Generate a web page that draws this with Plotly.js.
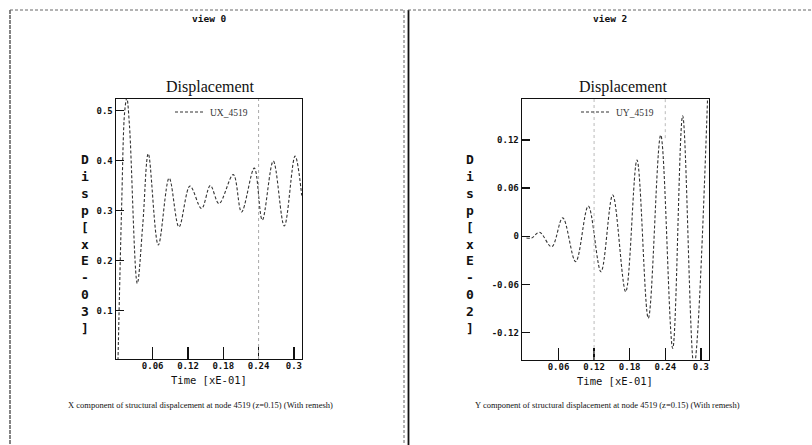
<!DOCTYPE html>
<html>
<head>
<meta charset="utf-8">
<script src="https://cdn.plot.ly/plotly-3.0.1.min.js"></script>
<style>html,body{margin:0;padding:0;background:#fff;}#chart{width:812px;height:445px;}</style>
</head>
<body>
<div id="chart"></div>
<script>
// ---- data ----
const uxTime = [0.001, 0.007, 0.0125, 0.016, 0.0205, 0.0338, 0.043, 0.0525, 0.0695, 0.088, 0.1047, 0.1234, 0.143, 0.158, 0.1727, 0.197, 0.211, 0.2327, 0.2463, 0.265, 0.2837, 0.302, 0.3133];
const uxValue = [0.0, 0.30, 0.50, 0.525, 0.47, 0.154, 0.27, 0.414, 0.231, 0.365, 0.267, 0.349, 0.304, 0.350, 0.314, 0.372, 0.297, 0.385, 0.281, 0.399, 0.269, 0.409, 0.330];

const uyTime = [0.006, 0.015, 0.028, 0.0485, 0.0671, 0.089, 0.1102, 0.1316, 0.1514, 0.1733, 0.1923, 0.2114, 0.2323, 0.2525, 0.2693, 0.2884, 0.3115];
const uyValue = [-0.002, -0.002, 0.005, -0.013, 0.023, -0.0316, 0.0377, -0.0441, 0.0514, -0.069, 0.095, -0.102, 0.126, -0.1395, 0.150, -0.162, 0.176];

const xTickVals = [0.06, 0.12, 0.18, 0.24, 0.3];
const xTickText = ['0.06', '0.12', '0.18', '0.24', '0.3'];
const uxTickVals = [0.1, 0.2, 0.3, 0.4, 0.5];
const uxTickText = ['0.1', '0.2', '0.3', '0.4', '0.5'];
const uyTickVals = [-0.12, -0.06, 0, 0.06, 0.12];
const uyTickText = ['-0.12', '-0.06', '0', '0.06', '0.12'];

const seriesNames = ['UX_4519', 'UY_4519'];
const viewTitles = ['view 0', 'view 2'];
const plotTitle = 'Displacement';
const xTitle = 'Time [xE-01]';
const yTitles = ['Disp[xE-03]', 'Disp[xE-02]'];
const captions = [
  'X component of structural dispalcement at node 4519 (z=0.15) (With remesh)',
  'Y component of structural displacement at node 4519 (z=0.15) (With remesh)'
];

// ---- helpers ----
const W = 812, H = 445;
const px = v => v / W;
const py = v => 1 - v / H;
const mono = 'DejaVu Sans Mono, Liberation Mono, monospace';
const serif = 'Liberation Serif, Times New Roman, serif';
const stack = s => s.split('').join('<br>');

const lineStyle = {color: '#333', width: 1.1, dash: '3px,2px', shape: 'spline', smoothing: 1};

const traces = [
  {x: uxTime, y: uxValue, type: 'scatter', mode: 'lines', name: seriesNames[0],
   line: lineStyle, xaxis: 'x', yaxis: 'y', legend: 'legend', cliponaxis: true},
  {x: uyTime, y: uyValue, type: 'scatter', mode: 'lines', name: seriesNames[1],
   line: lineStyle, xaxis: 'x2', yaxis: 'y2', legend: 'legend2', cliponaxis: true}
];

const axisCommon = {
  showgrid: false, zeroline: false, showline: true, mirror: true,
  linecolor: '#111', linewidth: 1.4, ticks: 'inside', tickcolor: '#111',
  tickwidth: 1.4, tickmode: 'array',
  tickfont: {family: mono, size: 9, color: '#111', weight: 'bold'}
};

const legendCommon = {
  bgcolor: 'rgba(0,0,0,0)', borderwidth: 0, itemwidth: 30,
  font: {family: serif, size: 9.5, color: '#333'},
  xanchor: 'left', yanchor: 'middle', tracegroupgap: 0
};

function note(text, x, y, font) {
  return {text: text, x: px(x), y: py(y), xref: 'paper', yref: 'paper', showarrow: false,
          xanchor: 'center', yanchor: 'middle', font: font};
}
const fView = {family: mono, size: 9.5, color: '#111', weight: 'bold'};
const fTitle = {family: serif, size: 16, color: '#111'};
const fAxis = {family: mono, size: 10.5, color: '#111'};
const fYLab = {family: mono, size: 13, color: '#111', weight: 'bold'};
const fCap = {family: serif, size: 8.5, color: '#111'};

const layout = {
  width: W, height: H,
  margin: {l: 0, r: 0, t: 0, b: 0},
  paper_bgcolor: '#fff', plot_bgcolor: '#fff',
  showlegend: true,
  xaxis: Object.assign({}, axisCommon, {domain: [px(116), px(302)], range: [-0.0024, 0.3138],
    tickvals: xTickVals, ticktext: xTickText, ticklen: 12, anchor: 'y', ticklabelstandoff: -2}),
  yaxis: Object.assign({}, axisCommon, {domain: [1 - 359 / H, 1 - 99 / H], range: [0.0026, 0.5234],
    tickvals: uxTickVals, ticktext: uxTickText, ticklen: 8, anchor: 'x'}),
  xaxis2: Object.assign({}, axisCommon, {domain: [px(522), px(709)], range: [-0.0015, 0.3137],
    tickvals: xTickVals, ticktext: xTickText, ticklen: 12, anchor: 'y2', ticklabelstandoff: -2}),
  yaxis2: Object.assign({}, axisCommon, {domain: [1 - 360 / H, 1 - 99 / H], range: [-0.154, 0.171],
    tickvals: uyTickVals, ticktext: uyTickText, ticklen: 8, anchor: 'x2'}),
  legend: Object.assign({}, legendCommon, {x: px(170), y: py(112)}),
  legend2: Object.assign({}, legendCommon, {x: px(576), y: py(112)}),
  annotations: [
    note(viewTitles[0], 209, 18, fView),
    note(viewTitles[1], 610, 18, fView),
    note(plotTitle, 210, 87, fTitle),
    note(plotTitle, 623, 87, fTitle),
    note(xTitle, 209, 380, fAxis),
    note(xTitle, 615, 381, fAxis),
    note(stack(yTitles[0]), 85, 244, fYLab),
    note(stack(yTitles[1]), 470, 244, fYLab),
    note(captions[0], 200, 405, fCap),
    note(captions[1], 607, 405, fCap)
  ],
  shapes: [
    // window frames
    {type: 'line', xref: 'paper', yref: 'paper', x0: px(10), x1: px(10), y0: py(10), y1: py(445), line: {color: '#333', width: 1.2, dash: '4px,1px'}},
    {type: 'line', xref: 'paper', yref: 'paper', x0: px(10), x1: px(404), y0: py(10), y1: py(10), line: {color: '#666', width: 1, dash: '3px,2px'}},
    {type: 'line', xref: 'paper', yref: 'paper', x0: px(404), x1: px(404), y0: py(10), y1: py(445), line: {color: '#666', width: 1, dash: '3px,2px'}},
    {type: 'line', xref: 'paper', yref: 'paper', x0: px(408.5), x1: px(408.5), y0: py(10), y1: py(445), line: {color: '#111', width: 1.8}},
    {type: 'line', xref: 'paper', yref: 'paper', x0: px(408), x1: px(812), y0: py(10), y1: py(10), line: {color: '#666', width: 1, dash: '3px,2px'}},
    // faint dotted guide lines visible in the scan
    {type: 'line', xref: 'x', yref: 'y domain', x0: 0.24, x1: 0.24, y0: 0, y1: 1, line: {color: '#aaa', width: 1, dash: 'dot'}},
    {type: 'line', xref: 'x2', yref: 'y2 domain', x0: 0.12, x1: 0.12, y0: 0, y1: 1, line: {color: '#bbb', width: 1, dash: 'dot'}},
    {type: 'line', xref: 'x2', yref: 'y2 domain', x0: 0.24, x1: 0.24, y0: 0.85, y1: 1, line: {color: '#bbb', width: 1, dash: 'dot'}}
  ]
};

Plotly.newPlot('chart', traces, layout, {displayModeBar: false, staticPlot: true});
</script>
</body>
</html>
